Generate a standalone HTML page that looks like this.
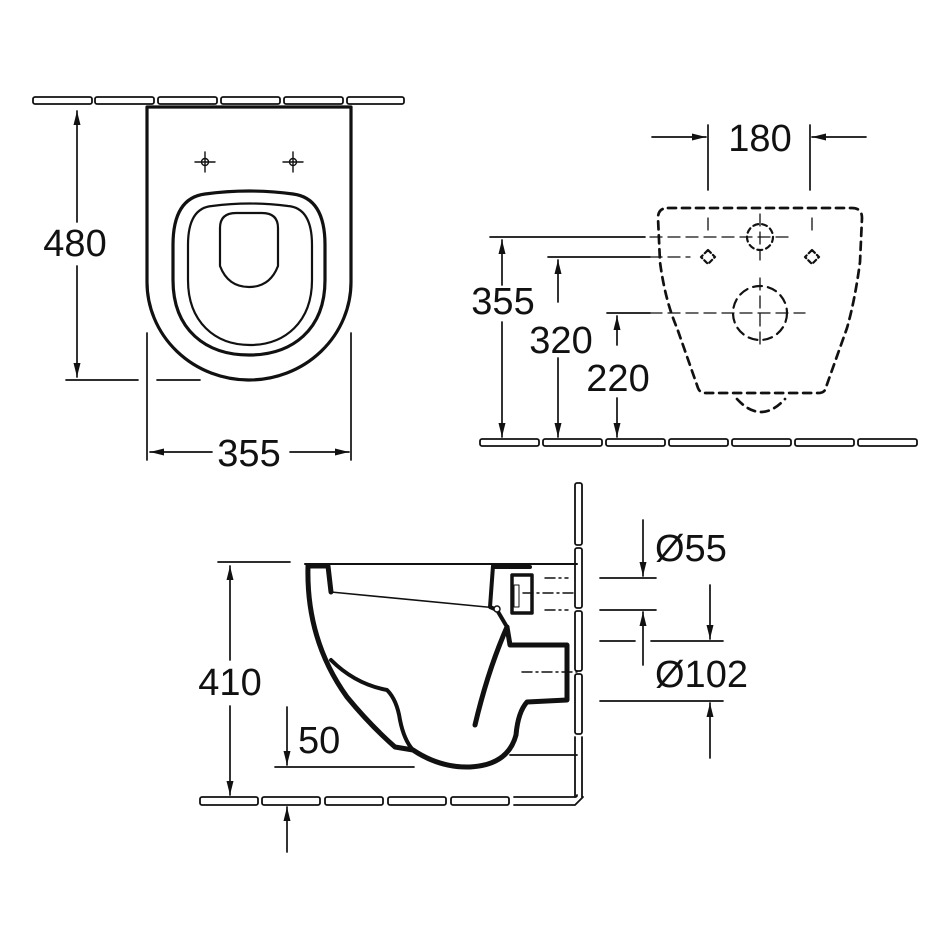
<!DOCTYPE html>
<html><head><meta charset="utf-8"><style>
html,body{margin:0;padding:0;background:#fff;}
svg{display:block;}
text{font-family:"Liberation Sans",Arial,sans-serif;font-size:38px;fill:#111;}
</style></head><body>
<svg width="950" height="950" viewBox="0 0 950 950" xmlns="http://www.w3.org/2000/svg">
<defs>
<marker id="a" viewBox="0 0 14 10" refX="14" refY="5" markerWidth="16" markerHeight="10" markerUnits="userSpaceOnUse" orient="auto"><path d="M0,1.5 L14,5 L0,8.5 Z" fill="#111"/></marker>
</defs>
<rect width="950" height="950" fill="#fff"/>
<g fill="none" stroke="#111" stroke-linecap="round" stroke-linejoin="round">

<!-- ===== TOP LEFT ===== -->
<g stroke-width="1.8">
<rect x="33" y="97" width="59" height="7" rx="2"/>
<rect x="95" y="97" width="59" height="7" rx="2"/>
<rect x="158" y="97" width="59" height="7" rx="2"/>
<rect x="221" y="97" width="59" height="7" rx="2"/>
<rect x="284" y="97" width="59" height="7" rx="2"/>
<rect x="347" y="97" width="57" height="7" rx="2"/>
</g>
<path d="M147,107 L351,107 L351,282 A102,98 0 0 1 147,282 Z" stroke-width="3.2"/>
<path d="M173,245 Q173,198 205,194 Q249,188 293,194 Q325,198 325,245 L325,280 C325,330 292,355 249,355 C206,355 173,330 173,280 Z" stroke-width="3.2"/>
<path d="M188,245 Q188,208 212,206 Q250,201 288,206 Q312,208 312,245 L312,280 C312,322 285,345 250,345 C215,345 188,322 188,280 Z" stroke-width="2.2"/>
<path d="M220,228 Q220,213 236,213 L262,213 Q278,213 278,228 L278,266 Q270,287 249,287 Q228,287 220,266 Z" stroke-width="2.2"/>
<g stroke-width="1.4">
<circle cx="205" cy="162" r="3.5"/><path d="M195,162h20M205,152v20"/>
<circle cx="293" cy="162" r="3.5"/><path d="M283,162h20M293,152v20"/>
</g>
<g stroke-width="1.7">
<path d="M77,222 V111" marker-end="url(#a)"/>
<path d="M77,266 V377" marker-end="url(#a)"/>
<path d="M66,380 H138 M157,380 H200"/>
<path d="M147,333 V460 M351,333 V460"/>
<path d="M212,452 H150" marker-end="url(#a)"/>
<path d="M290,452 H349" marker-end="url(#a)"/>
</g>

<!-- ===== TOP RIGHT ===== -->
<g stroke-width="1.8">
<rect x="480" y="439" width="59" height="7" rx="2"/>
<rect x="543" y="439" width="59" height="7" rx="2"/>
<rect x="606" y="439" width="59" height="7" rx="2"/>
<rect x="669" y="439" width="59" height="7" rx="2"/>
<rect x="732" y="439" width="59" height="7" rx="2"/>
<rect x="795" y="439" width="59" height="7" rx="2"/>
<rect x="858" y="439" width="59" height="7" rx="2"/>
</g>
<g stroke-width="1.7">
<path d="M708,125 V190 M810,125 V190"/>
<path d="M652,137 H706" marker-end="url(#a)"/>
<path d="M866,137 H812" marker-end="url(#a)"/>
<path d="M490,237 H645 M548,257 H650 M607,313 H650"/>
<path d="M502,285 V240" marker-end="url(#a)"/>
<path d="M502,322 V437" marker-end="url(#a)"/>
<path d="M558,302 V260" marker-end="url(#a)"/>
<path d="M558,358 V437" marker-end="url(#a)"/>
<path d="M617,345 V316" marker-end="url(#a)"/>
<path d="M617,398 V437" marker-end="url(#a)"/>
</g>
<g stroke-width="1.3" stroke-dasharray="12,6">
<path d="M650,237 H790 M650,257 H690 M650,313 H805"/>
<path d="M708,218 V232 M812,218 V232"/>
<path d="M760,214 V260 M760,278 V348"/>
</g>
<g stroke-width="2.7" stroke-dasharray="8,6">
<path d="M668,208 L852,208 Q862,208 862,218 L860,262 Q855,300 847,328 L825,390 Q823,393 818,393 L705,393 Q700,393 698,388 L677,328 Q665,300 660,262 L658,218 Q658,208 668,208 Z"/>
<path d="M737,399 Q761,425 785,399"/>
<circle cx="760" cy="237" r="13" stroke-width="2.2" stroke-dasharray="5,4"/>
<circle cx="760" cy="313" r="27" stroke-width="2.2" stroke-dasharray="9,6"/>
</g>
<g stroke-width="2.2" stroke-dasharray="4,3">
<path d="M708,250 L715,257 L708,264 L701,257 Z"/>
<path d="M812,250 L819,257 L812,264 L805,257 Z"/>
</g>

<!-- ===== BOTTOM ===== -->
<g stroke-width="1.8">
<rect x="200" y="797" width="58" height="8" rx="2"/>
<rect x="262" y="797" width="58" height="8" rx="2"/>
<rect x="325" y="797" width="58" height="8" rx="2"/>
<rect x="388" y="797" width="58" height="8" rx="2"/>
<rect x="451" y="797" width="58" height="8" rx="2"/>
<path d="M514,797 H575 Q577,797 577,795 M514,805 H575 L583,797"/>
<rect x="575" y="483" width="7" height="62" rx="2"/>
<rect x="575" y="548" width="7" height="60" rx="2"/>
<rect x="575" y="611" width="7" height="60" rx="2"/>
<rect x="575" y="674" width="7" height="60" rx="2"/>
<path d="M575,737 V797 M582,737 V797"/>
</g>
<path d="M305,564 L577,564" stroke-width="2"/>
<path d="M308,566 Q306,640 347,697 Q370,725 395,747 L413,750 Q440,768 470,767 Q508,765 516,735 Q518,712 527,702 L567,700 L567,645 L510,645 L507,627" stroke-width="5"/>
<path d="M507,627 Q488,670 475,725" stroke-width="5"/>
<path d="M308,566 L328,566 L331,592" stroke-width="5"/>
<path d="M331,592 L497,608" stroke-width="1.6"/>
<path d="M331,660 Q355,684 387,690 Q397,700 400,720 Q404,740 413,750" stroke-width="4"/>
<path d="M493,566 L490,607 L497,610 L507,627" stroke-width="4"/>
<path d="M495,567 H530" stroke-width="4"/>
<rect x="512" y="575" width="20" height="38" stroke-width="3.5"/>
<rect x="514" y="585" width="5" height="22" stroke-width="1"/>
<circle cx="497" cy="609" r="3" stroke-width="1.5" fill="#fff"/>
<path d="M510,755 H577" stroke-width="1.8"/>
<g stroke-width="1.4">
<path d="M545,578 H568 M545,610 H568 M523,593 H577 M522,672 H577" stroke-dasharray="10,4,2,4"/>
</g>
<g stroke-width="1.7">
<path d="M218,562 H290"/>
<path d="M230,660 V566" marker-end="url(#a)"/>
<path d="M230,706 V795" marker-end="url(#a)"/>
<path d="M275,767 H414"/>
<path d="M287,707 V765" marker-end="url(#a)"/>
<path d="M287,852 V807" marker-end="url(#a)"/>
<path d="M600,578 H656 M600,610 H656 M600,641 H635 M651,641 H723 M600,701 H723"/>
<path d="M643,520 V576" marker-end="url(#a)"/>
<path d="M643,665 V612" marker-end="url(#a)"/>
<path d="M710,585 V639" marker-end="url(#a)"/>
<path d="M710,758 V703" marker-end="url(#a)"/>
</g>
</g>

<g>
<text x="75" y="256" text-anchor="middle">480</text>
<text x="249" y="466" text-anchor="middle">355</text>
<text x="760" y="151" text-anchor="middle">180</text>
<text x="503" y="314" text-anchor="middle">355</text>
<text x="561" y="353" text-anchor="middle">320</text>
<text x="618" y="391" text-anchor="middle">220</text>
<text x="230" y="695" text-anchor="middle">410</text>
<text x="298" y="753">50</text>
<text x="655" y="561">Ø55</text>
<text x="655" y="687">Ø102</text>
</g>
</svg>
</body></html>
